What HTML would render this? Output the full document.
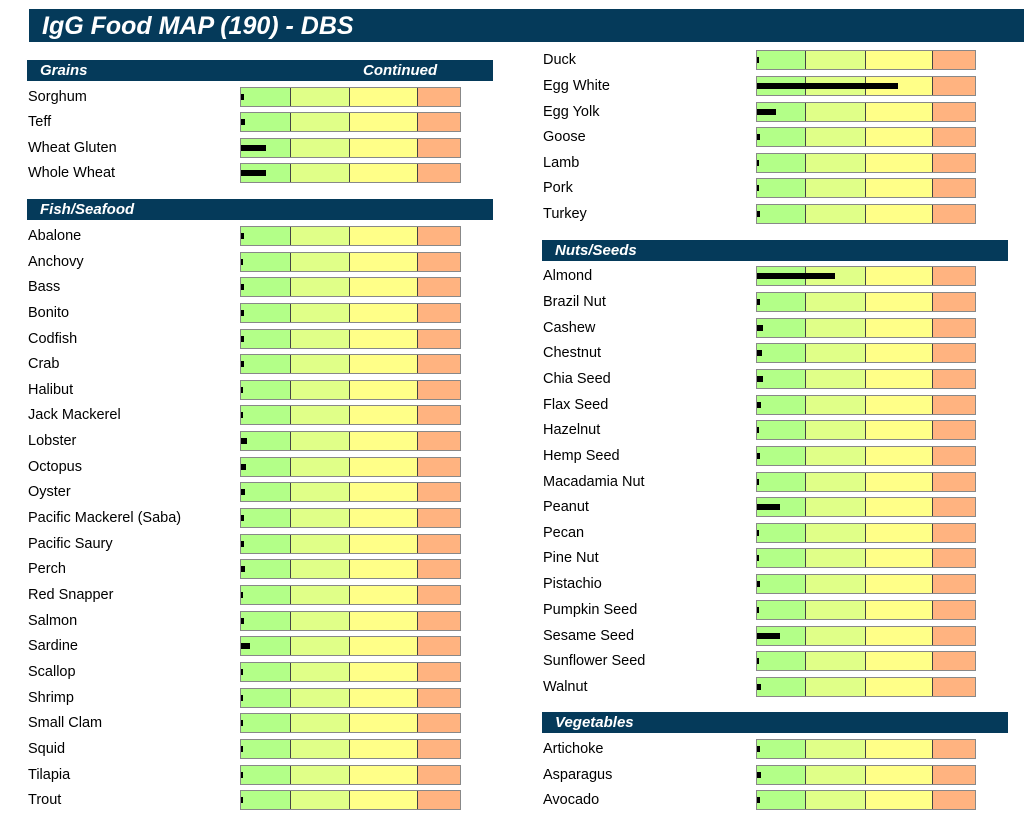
<!DOCTYPE html>
<html><head><meta charset="utf-8"><style>
body{margin:0;width:1024px;height:815px;background:#fff;position:relative;overflow:hidden;font-family:"Liberation Sans",Arial,sans-serif;}
.t{position:absolute;left:29px;top:9px;width:995px;height:33px;background:#053a5a;color:#fff;font:italic bold 25px "Liberation Sans",sans-serif;line-height:34px;text-indent:13px}
.h{position:absolute;height:21px;background:#053a5a;color:#fff;font:italic bold 15px "Liberation Sans",sans-serif;line-height:22px;text-indent:13px;width:466px}
.r{position:absolute;height:20px;font-size:14.5px;line-height:21px;color:#000}
.L{left:28px}.R{left:543px}
.b{position:absolute;top:0;height:18px;border:1px solid #888;box-sizing:content-box}
.L .b{left:212px;width:219px;background:linear-gradient(90deg,#b3ff88 0 49px,#444 49px 50px,#e0ff88 50px 108px,#444 108px 109px,#ffff88 109px 176px,#444 176px 177px,#ffb380 177px)}
.R .b{left:213px;width:218px;background:linear-gradient(90deg,#b3ff88 0 48px,#444 48px 49px,#e0ff88 49px 108px,#444 108px 109px,#ffff88 109px 175px,#444 175px 176px,#ffb380 176px)}
.b i{position:absolute;left:0;top:6px;height:6px;background:#000}
</style></head><body>
<div class="t">IgG Food MAP (190) - DBS</div>
<div class="h" style="left:27px;top:60px">Grains<span style="position:absolute;left:336px;text-indent:0">Continued</span></div>
<div class="r L" style="top:87px">Sorghum<div class="b"><i style="width:3px"></i></div></div>
<div class="r L" style="top:112px">Teff<div class="b"><i style="width:4px"></i></div></div>
<div class="r L" style="top:138px">Wheat Gluten<div class="b"><i style="width:25px"></i></div></div>
<div class="r L" style="top:163px">Whole Wheat<div class="b"><i style="width:25px"></i></div></div>
<div class="h" style="left:27px;top:199px">Fish/Seafood</div>
<div class="r L" style="top:226px">Abalone<div class="b"><i style="width:3px"></i></div></div>
<div class="r L" style="top:252px">Anchovy<div class="b"><i style="width:2px"></i></div></div>
<div class="r L" style="top:277px">Bass<div class="b"><i style="width:3px"></i></div></div>
<div class="r L" style="top:303px">Bonito<div class="b"><i style="width:3px"></i></div></div>
<div class="r L" style="top:329px">Codfish<div class="b"><i style="width:3px"></i></div></div>
<div class="r L" style="top:354px">Crab<div class="b"><i style="width:3px"></i></div></div>
<div class="r L" style="top:380px">Halibut<div class="b"><i style="width:2px"></i></div></div>
<div class="r L" style="top:405px">Jack Mackerel<div class="b"><i style="width:2px"></i></div></div>
<div class="r L" style="top:431px">Lobster<div class="b"><i style="width:6px"></i></div></div>
<div class="r L" style="top:457px">Octopus<div class="b"><i style="width:5px"></i></div></div>
<div class="r L" style="top:482px">Oyster<div class="b"><i style="width:4px"></i></div></div>
<div class="r L" style="top:508px">Pacific Mackerel (Saba)<div class="b"><i style="width:3px"></i></div></div>
<div class="r L" style="top:534px">Pacific Saury<div class="b"><i style="width:3px"></i></div></div>
<div class="r L" style="top:559px">Perch<div class="b"><i style="width:4px"></i></div></div>
<div class="r L" style="top:585px">Red Snapper<div class="b"><i style="width:2px"></i></div></div>
<div class="r L" style="top:611px">Salmon<div class="b"><i style="width:3px"></i></div></div>
<div class="r L" style="top:636px">Sardine<div class="b"><i style="width:9px"></i></div></div>
<div class="r L" style="top:662px">Scallop<div class="b"><i style="width:2px"></i></div></div>
<div class="r L" style="top:688px">Shrimp<div class="b"><i style="width:2px"></i></div></div>
<div class="r L" style="top:713px">Small Clam<div class="b"><i style="width:2px"></i></div></div>
<div class="r L" style="top:739px">Squid<div class="b"><i style="width:2px"></i></div></div>
<div class="r L" style="top:765px">Tilapia<div class="b"><i style="width:2px"></i></div></div>
<div class="r L" style="top:790px">Trout<div class="b"><i style="width:2px"></i></div></div>

<div class="r R" style="top:50px">Duck<div class="b"><i style="width:2px"></i></div></div>
<div class="r R" style="top:76px">Egg White<div class="b"><i style="width:141px"></i></div></div>
<div class="r R" style="top:102px">Egg Yolk<div class="b"><i style="width:19px"></i></div></div>
<div class="r R" style="top:127px">Goose<div class="b"><i style="width:3px"></i></div></div>
<div class="r R" style="top:153px">Lamb<div class="b"><i style="width:2px"></i></div></div>
<div class="r R" style="top:178px">Pork<div class="b"><i style="width:2px"></i></div></div>
<div class="r R" style="top:204px">Turkey<div class="b"><i style="width:3px"></i></div></div>
<div class="h" style="left:542px;top:240px">Nuts/Seeds</div>
<div class="r R" style="top:266px">Almond<div class="b"><i style="width:78px"></i></div></div>
<div class="r R" style="top:292px">Brazil Nut<div class="b"><i style="width:3px"></i></div></div>
<div class="r R" style="top:318px">Cashew<div class="b"><i style="width:6px"></i></div></div>
<div class="r R" style="top:343px">Chestnut<div class="b"><i style="width:5px"></i></div></div>
<div class="r R" style="top:369px">Chia Seed<div class="b"><i style="width:6px"></i></div></div>
<div class="r R" style="top:395px">Flax Seed<div class="b"><i style="width:4px"></i></div></div>
<div class="r R" style="top:420px">Hazelnut<div class="b"><i style="width:2px"></i></div></div>
<div class="r R" style="top:446px">Hemp Seed<div class="b"><i style="width:3px"></i></div></div>
<div class="r R" style="top:472px">Macadamia Nut<div class="b"><i style="width:2px"></i></div></div>
<div class="r R" style="top:497px">Peanut<div class="b"><i style="width:23px"></i></div></div>
<div class="r R" style="top:523px">Pecan<div class="b"><i style="width:2px"></i></div></div>
<div class="r R" style="top:548px">Pine Nut<div class="b"><i style="width:2px"></i></div></div>
<div class="r R" style="top:574px">Pistachio<div class="b"><i style="width:3px"></i></div></div>
<div class="r R" style="top:600px">Pumpkin Seed<div class="b"><i style="width:2px"></i></div></div>
<div class="r R" style="top:626px">Sesame Seed<div class="b"><i style="width:23px"></i></div></div>
<div class="r R" style="top:651px">Sunflower Seed<div class="b"><i style="width:2px"></i></div></div>
<div class="r R" style="top:677px">Walnut<div class="b"><i style="width:4px"></i></div></div>
<div class="h" style="left:542px;top:712px">Vegetables</div>
<div class="r R" style="top:739px">Artichoke<div class="b"><i style="width:3px"></i></div></div>
<div class="r R" style="top:765px">Asparagus<div class="b"><i style="width:4px"></i></div></div>
<div class="r R" style="top:790px">Avocado<div class="b"><i style="width:3px"></i></div></div>
</body></html>
